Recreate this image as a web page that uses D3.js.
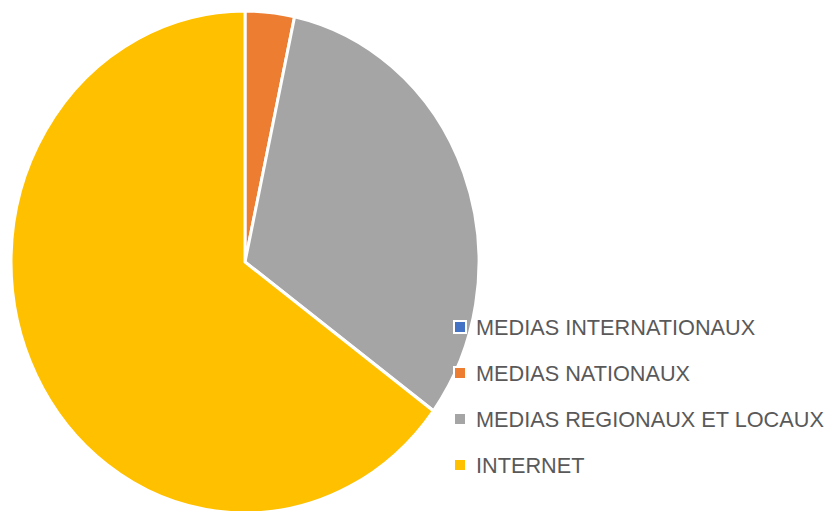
<!DOCTYPE html>
<html>
<head>
<meta charset="utf-8">
<script src="https://cdn.jsdelivr.net/npm/d3@7"></script>
<style>
  body { margin: 0; background: #fff; }
  svg { display: block; }
</style>
</head>
<body>
<div id="chart"></div>
<script>
var categories = ["MEDIAS INTERNATIONAUX", "MEDIAS NATIONAUX", "MEDIAS REGIONAUX ET LOCAUX", "INTERNET"];
var values = [0, 3.4, 31.7, 64.9];
var colors = ["#4472c4", "#ed7d31", "#a5a5a5", "#ffc000"];

var width = 827, height = 511;
// the pie in the picture is a little stretched vertically
var cx = 245, cy = 262, radius = 234, yStretch = 1.073;

var svg = d3.select("#chart")
    .append("svg")
    .attr("width", width)
    .attr("height", height);

var data = categories.map(function(c, i) {
    return { name: c, value: values[i], color: colors[i] };
});

var pie = d3.pie()
    .sort(null)
    .value(function(d) { return d.value; });

var arc = d3.arc()
    .innerRadius(0)
    .outerRadius(radius);

// slices
svg.append("g")
    .attr("transform", "translate(" + cx + "," + cy + ") scale(1," + yStretch + ")")
    .selectAll("path")
    .data(pie(data))
    .enter()
    .append("path")
    .attr("d", arc)
    .style("fill", function(d) { return d.data.color; })
    .style("stroke", "#fff")
    .style("stroke-width", 3)
    .style("stroke-linejoin", "round");

// legend
var legend = svg.append("g")
    .attr("transform", "translate(455,327)");

var item = legend.selectAll("g")
    .data(data)
    .enter()
    .append("g")
    .attr("transform", function(d, i) { return "translate(0," + (i * 46) + ")"; });

item.append("rect")
    .attr("x", -2)
    .attr("y", -7)
    .attr("width", 14)
    .attr("height", 14)
    .style("fill", "#fff");

item.append("rect")
    .attr("x", 0)
    .attr("y", -5)
    .attr("width", 10)
    .attr("height", 10)
    .style("fill", function(d) { return d.color; });

item.append("text")
    .attr("x", 21)
    .attr("y", 0)
    .attr("dy", "0.36em")
    .style("font-family", "'Liberation Sans', Arial, sans-serif")
    .style("font-size", "21.7px")
    .style("fill", "#595959")
    .text(function(d) { return d.name; });
</script>
</body>
</html>
